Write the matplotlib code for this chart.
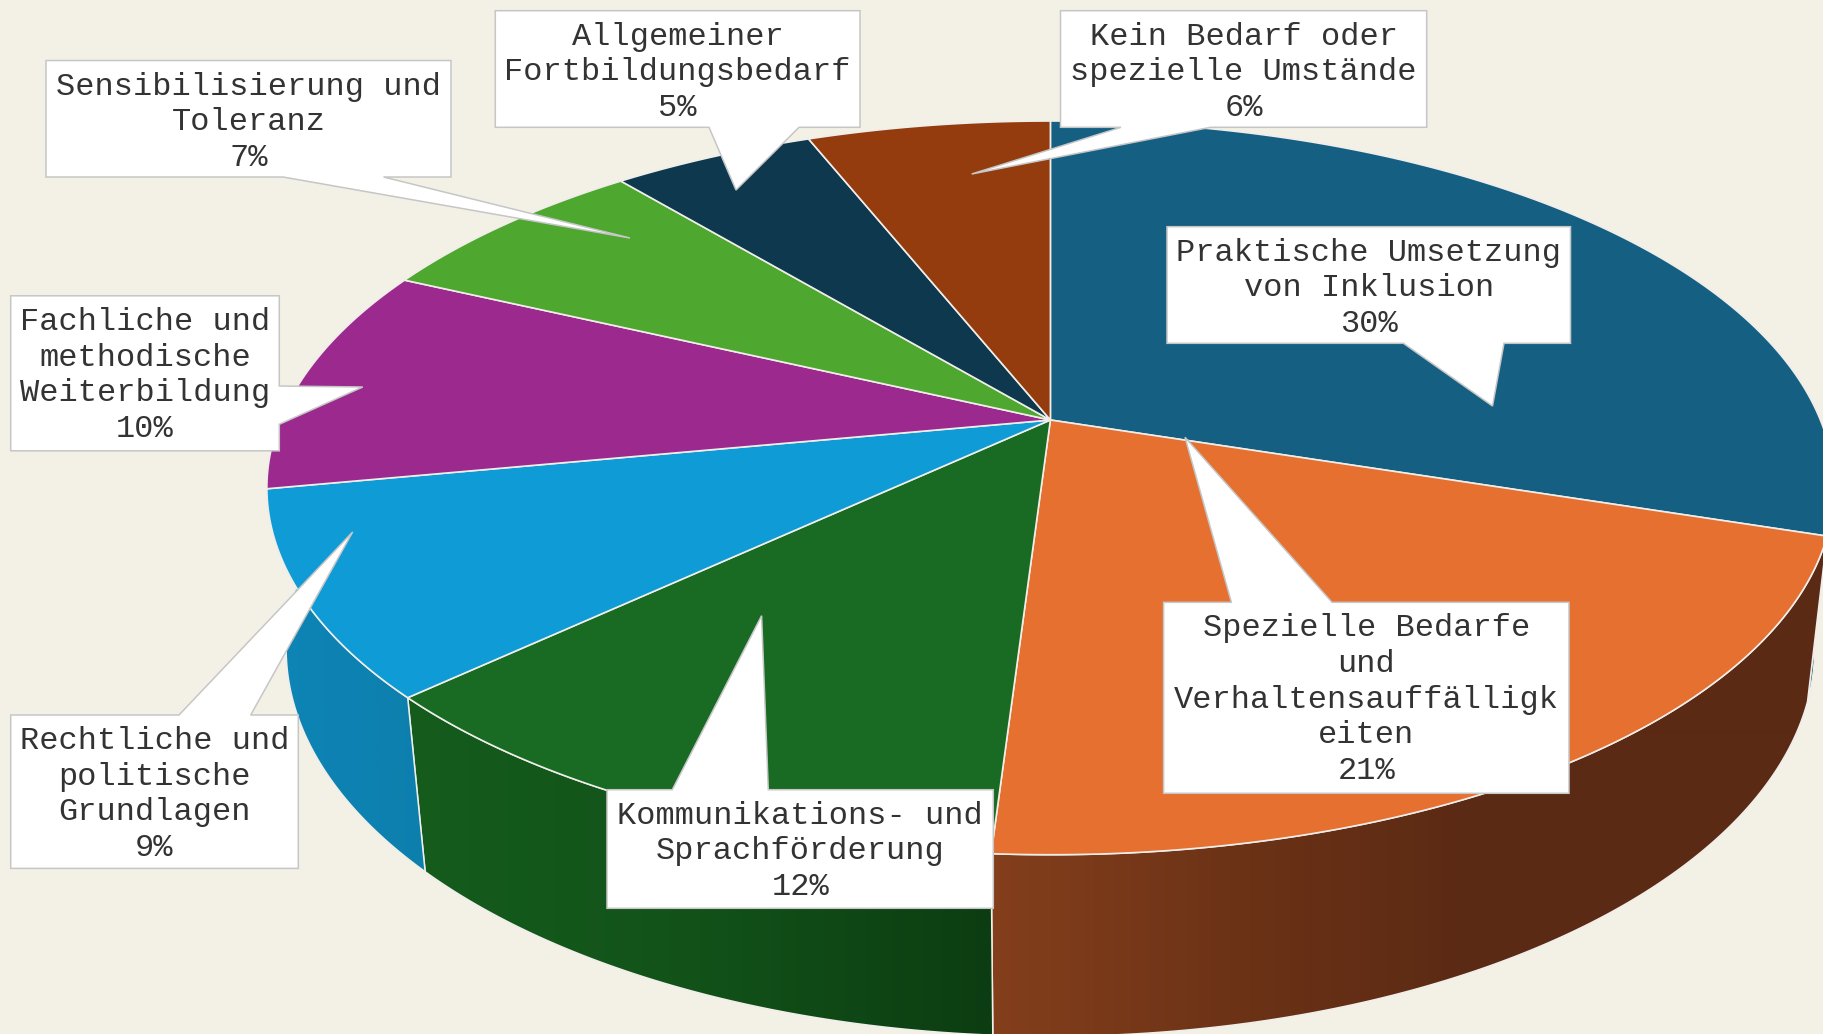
import numpy as np
import matplotlib
matplotlib.use("Agg")
import matplotlib.pyplot as plt
from matplotlib.patches import Polygon
from matplotlib.colors import to_rgb

categories = [
    "Praktische Umsetzung\nvon Inklusion",
    "Spezielle Bedarfe\nund\nVerhaltensauffälligk\neiten",
    "Kommunikations- und\nSprachförderung",
    "Rechtliche und\npolitische\nGrundlagen",
    "Fachliche und\nmethodische\nWeiterbildung",
    "Sensibilisierung und\nToleranz",
    "Allgemeiner\nFortbildungsbedarf",
    "Kein Bedarf oder\nspezielle Umstände",
]
values = [30, 21, 12, 9, 10, 7, 5, 6]
top_colors = ["#156082", "#E67030", "#196B24", "#0F9BD5",
              "#9C2A8E", "#4EA72E", "#0D384D", "#943C0D"]

# side-wall shading: (x pixel, colour) stops, None = wall not visible
side_stops = [
    [(1700, "#0E4A66"), (1824, "#0E4A66")],
    [(990, "#843F1C"), (1250, "#6B3216"), (1470, "#5B2A14"), (1824, "#5B2A14")],
    [(410, "#155C1D"), (700, "#125219"), (990, "#0C3D12")],
    [(270, "#0D85B6"), (430, "#0D7FAD")],
    None, None, None, None,
]
# callouts: box (left, top, right, bottom), side, pointer base (a, b), pointer tip
callouts = [
    ((1167, 226.7, 1570.5, 343.3), "bottom", (1403.4, 1504), (1492.5, 406)),
    ((1163.6, 602.3, 1569, 793.3), "top", (1231.4, 1332), (1185, 437.3)),
    ((607, 789.7, 993.3, 908.3), "top", (672.3, 768.3), (761.6, 615.7)),
    ((10.7, 715, 298.3, 868.4), "top", (179, 250.7), (352.7, 531.9)),
    ((10.7, 295.8, 279.3, 450.8), "right", (386, 424.3), (362.7, 387)),
    ((46, 60.5, 451, 177), "bottom", (283, 383.5), (630, 238)),
    ((495.3, 10.7, 860, 127.3), "bottom", (709, 799), (736, 190)),
    ((1060.5, 10.7, 1426.7, 127.3), "bottom", (1121, 1210.5), (971.7, 174)),
]

BG = "#F3F1E6"
EDGE = "#F0EEEA"
BORDER = "#C6C6C6"
CX, CY, A, B, K = 1050.4, 420.0, 770.0, 354.3, 0.185
VP = np.array([1050.0, 7100.0])
DEPTH = 0.0244
SILHOUETTE = 0.09  # extra turn given to the last visible wall


def project(theta, lower=False):
    X, Y = np.sin(theta), np.cos(theta)
    w = 1 + K * Y
    x = CX + A * X / w
    y = CY - B * Y / w
    if lower:
        t = DEPTH / (w + DEPTH)
        x = x + t * (VP[0] - x)
        y = y + t * (VP[1] - y)
    return x, y


def arc(t0, t1, lower=False):
    th = np.linspace(t0, t1, max(8, int((t1 - t0) * 200)))
    return np.column_stack(project(th, lower))


fig = plt.figure(figsize=(18.24, 10.34), dpi=100, facecolor=BG)
ax = fig.add_axes([0, 0, 1, 1])
ax.set_xlim(0, 1824)
ax.set_ylim(1034, 0)
ax.axis("off")
ax.set_autoscale_on(False)

edges = np.cumsum([0] + values) / sum(values) * 2 * np.pi

# side walls
for i, stops in enumerate(side_stops):
    if stops is None:
        continue
    t0, t1 = edges[i], edges[i + 1]
    if i == 3:
        t1 += SILHOUETTE * 2 * np.pi
    pts = np.vstack([arc(t0, t1), arc(t0, t1, True)[::-1]])
    xs = np.linspace(0, 1824, 912)
    sx = [s[0] for s in stops]
    rgb = np.array([to_rgb(s[1]) for s in stops])
    grad = np.stack([np.interp(xs, sx, rgb[:, c]) for c in range(3)], axis=-1)[None, :, :]
    z = 1 + 0.1 * i
    im = ax.imshow(grad, extent=(0, 1824, 1034, 0), aspect="auto", zorder=z,
                   interpolation="bilinear")
    patch = Polygon(pts, closed=True, facecolor="none", edgecolor=EDGE, lw=1.1, zorder=z + 0.01)
    ax.add_patch(patch)
    im.set_clip_path(patch)

# top face
for i, col in enumerate(top_colors):
    pts = np.vstack([[CX, CY], arc(edges[i], edges[i + 1])])
    ax.add_patch(Polygon(pts, closed=True, facecolor=col, edgecolor=EDGE,
                         lw=1.2, joinstyle="round", zorder=2))

# callouts
FONT = "Liberation Mono"
for cat, val, (box, side, base, tip) in zip(categories, values, callouts):
    l, t, r, b = box
    if side == "bottom":
        pts = [(l, t), (r, t), (r, b), (base[1], b), tip, (base[0], b), (l, b)]
    elif side == "top":
        pts = [(l, t), (base[0], t), tip, (base[1], t), (r, t), (r, b), (l, b)]
    else:
        pts = [(l, t), (r, t), (r, base[0]), tip, (r, base[1]), (r, b), (l, b)]
    ax.add_patch(Polygon(pts, closed=True, facecolor="white", edgecolor=BORDER,
                         lw=1.1, joinstyle="miter", zorder=3))
    lines = cat.split("\n") + [f"{val}%"]
    for j, line in enumerate(lines):
        ax.text((l + r) / 2, t + 34 + 35.7 * j, line, ha="center", va="baseline",
                family=FONT, fontsize=23, color="#333333", zorder=4)

fig.savefig("out.png", dpi=100, facecolor=BG)
